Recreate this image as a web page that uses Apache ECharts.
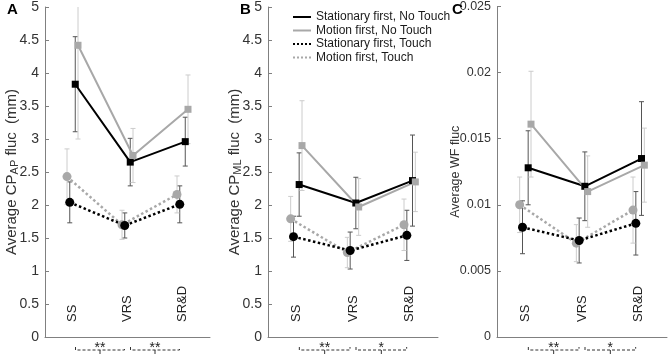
<!DOCTYPE html>
<html>
<head>
<meta charset="utf-8">
<script src="https://cdn.jsdelivr.net/npm/echarts@6/dist/echarts.min.js"></script>
<style>
  html, body { margin: 0; padding: 0; background: #fff; }
  #chart { width: 669px; height: 357px; }
</style>
</head>
<body>
<div id="chart"></div>
<script>
const categories = ['SS', 'VRS', 'SR&D'];
const seriesNames = ['Stationary first, No Touch', 'Motion first, No Touch', 'Stationary first, Touch', 'Motion first, Touch'];

// A: CP AP fluc (mm), mean and error bar half-length
const apStatNoTouch = [3.83, 2.65, 2.96];
const apStatNoTouchErr = [0.72, 0.36, 0.37];
const apMotNoTouch = [4.42, 2.75, 3.45];
const apMotNoTouchErr = [1.42, 0.41, 0.52];
const apStatTouch = [2.04, 1.69, 2.01];
const apStatTouchErr = [0.31, 0.19, 0.28];
const apMotTouch = [2.43, 1.70, 2.16];
const apMotTouchErr = [0.42, 0.22, 0.28];

// B: CP ML fluc (mm)
const mlStatNoTouch = [2.31, 2.03, 2.37];
const mlStatNoTouchErr = [0.48, 0.39, 0.69];
const mlMotNoTouch = [2.90, 1.97, 2.35];
const mlMotNoTouchErr = [0.68, 0.43, 0.45];
const mlStatTouch = [1.52, 1.31, 1.54];
const mlStatTouchErr = [0.31, 0.28, 0.38];
const mlMotTouch = [1.79, 1.28, 1.70];
const mlMotTouchErr = [0.34, 0.23, 0.39];

// C: WF fluc
const wfStatNoTouch = [0.0128, 0.0114, 0.0135];
const wfStatNoTouchErr = [0.0028, 0.0026, 0.0043];
const wfMotNoTouch = [0.0161, 0.0110, 0.0130];
const wfMotNoTouchErr = [0.0040, 0.0027, 0.0028];
const wfStatTouch = [0.0083, 0.0073, 0.0086];
const wfStatTouchErr = [0.0020, 0.0017, 0.0024];
const wfMotTouch = [0.0100, 0.0071, 0.0096];
const wfMotTouchErr = [0.0021, 0.0014, 0.0025];

// significance between SS-VRS and VRS-SR&D
const sigA = ['**', '**'];
const sigB = ['**', '*'];
const sigC = ['**', '*'];

const panels = [
  { letter: 'A', name: '{t|Average CP}{s|AP}{t| fluc  (mm)}', max: 5, step: 0.5, sig: sigA,
    means: [apStatNoTouch, apMotNoTouch, apStatTouch, apMotTouch],
    errs: [apStatNoTouchErr, apMotNoTouchErr, apStatTouchErr, apMotTouchErr] },
  { letter: 'B', name: '{t|Average CP}{s|ML}{t| fluc  (mm)}', max: 5, step: 0.5, sig: sigB,
    means: [mlStatNoTouch, mlMotNoTouch, mlStatTouch, mlMotTouch],
    errs: [mlStatNoTouchErr, mlMotNoTouchErr, mlStatTouchErr, mlMotTouchErr] },
  { letter: 'C', name: '{t|Average WF fluc}', max: 0.025, step: 0.005, sig: sigC,
    means: [wfStatNoTouch, wfMotNoTouch, wfStatTouch, wfMotTouch],
    errs: [wfStatNoTouchErr, wfMotNoTouchErr, wfStatTouchErr, wfMotTouchErr] }
];

// layout / style
const gridLeft = [40, 268, 497];
const nameGaps = [25, 25, 34];
const nameFont = [15, 15, 12.5];
const tickFont = [14, 14, 12.5];
const letterLeft = [7, 240, 452];
const styles = [
  { color: '#000000', type: 'solid', width: 2, symbol: 'rect', size: 7, bar: '#555555', dx: 0.05 },
  { color: '#a8a8a8', type: 'solid', width: 2, symbol: 'rect', size: 7, bar: '#cccccc', dx: 0.1 },
  { color: '#000000', type: 'dotted', width: 2.5, symbol: 'circle', size: 9, bar: '#555555', dx: -0.05 },
  { color: '#a8a8a8', type: 'dotted', width: 2.5, symbol: 'circle', size: 9, bar: '#cccccc', dx: -0.1 }
];
const drawOrder = [3, 2, 0, 1];
const axisGray = '#808080';
const font = '"Liberation Sans", Arial, sans-serif';

const chart = echarts.init(document.getElementById('chart'));

const grid = [], xAxis = [], yAxis = [], title = [], series = [];

panels.forEach((p, i) => {
  grid.push({ left: gridLeft[i], top: 5, width: 170, height: 332 });
  title.push({ text: p.letter, left: letterLeft[i], top: 2, padding: 0,
    textStyle: { fontSize: 15, fontWeight: 'bold', color: '#000', fontFamily: font } });

  // category axis: visible labels and ticks
  xAxis.push({
    type: 'category', gridIndex: i, data: categories, boundaryGap: true,
    axisLine: { lineStyle: { color: axisGray, width: 1 } },
    axisTick: { inside: true, alignWithLabel: true, length: 4, lineStyle: { color: axisGray } },
    axisLabel: { inside: true, rotate: 90, margin: 15, fontSize: 13, color: '#222', fontFamily: font }
  });
  // hidden value axis used to place the offset points
  xAxis.push({ type: 'value', gridIndex: i, min: 0.5, max: 3.5, show: false });

  const nf = nameFont[i];
  yAxis.push({
    type: 'value', gridIndex: i, min: 0, max: p.max, interval: p.step,
    axisLine: { show: true, lineStyle: { color: axisGray, width: 1 } },
    axisTick: { show: true, inside: true, length: 4, lineStyle: { color: axisGray } },
    splitLine: { show: false },
    axisLabel: { fontSize: tickFont[i], color: '#333', margin: 6, fontFamily: font },
    name: p.name, nameLocation: 'middle', nameGap: nameGaps[i], nameMoveOverlap: false,
    nameTextStyle: {
      fontFamily: font,
      rich: {
        t: { fontSize: nf, color: '#333', fontFamily: font, verticalAlign: 'top', lineHeight: nf + 1 },
        s: { fontSize: nf - 4, color: '#333', fontFamily: font, verticalAlign: 'bottom', lineHeight: nf - 3, padding: [8, 0, 0, 0] }
      }
    }
  });

  const vx = i * 2 + 1;

  // error bars
  const barData = [];
  p.means.forEach((m, s) => {
    m.forEach((v, c) => barData.push([c + 1 + styles[s].dx, v, p.errs[s][c], s]));
  });
  series.push({
    type: 'custom', xAxisIndex: vx, yAxisIndex: i, clip: true, z: 1,
    data: barData,
    encode: { x: 0, y: 1 },
    renderItem: (params, api) => {
      const x = api.value(0), m = api.value(1), e = api.value(2);
      const st = styles[api.value(3)];
      const top = api.coord([x, m + e]);
      const bot = api.coord([x, m - e]);
      const cap = 2.5;
      const ls = { stroke: st.bar, lineWidth: 1 };
      return {
        type: 'group',
        children: [
          { type: 'line', shape: { x1: top[0], y1: top[1], x2: bot[0], y2: bot[1] }, style: ls },
          { type: 'line', shape: { x1: top[0] - cap, y1: top[1], x2: top[0] + cap, y2: top[1] }, style: ls },
          { type: 'line', shape: { x1: bot[0] - cap, y1: bot[1], x2: bot[0] + cap, y2: bot[1] }, style: ls }
        ]
      };
    }
  });

  drawOrder.forEach(s => {
    const st = styles[s];
    series.push({
      name: seriesNames[s], type: 'line', xAxisIndex: vx, yAxisIndex: i, z: 2,
      data: p.means[s].map((v, c) => [c + 1 + st.dx, v]),
      symbol: st.symbol, symbolSize: st.size, showSymbol: true,
      lineStyle: { color: st.color, width: st.width, type: st.type },
      itemStyle: { color: st.color },
      emphasis: { disabled: true }
    });
  });

  // significance brackets under the axis
  series.push({
    type: 'custom', xAxisIndex: vx, yAxisIndex: i, clip: false, silent: true, z: 3,
    data: p.sig.map((txt, k) => [k + 1, k + 2, k]),
    encode: { x: [0, 1] },
    renderItem: (params, api) => {
      const a = api.coord([api.value(0), 0]);
      const b = api.coord([api.value(1), 0]);
      const txt = p.sig[api.value(2)];
      const y = a[1] + 13;
      const x1 = a[0] + 3, x2 = b[0] - 3, cx = (x1 + x2) / 2;
      const ls = { stroke: '#333', lineWidth: 1, lineDash: [3, 2] };
      return {
        type: 'group',
        children: [
          { type: 'polyline', shape: { points: [[x1, y - 3], [x1, y], [x2, y], [x2, y - 3]] }, style: Object.assign({ fill: null }, ls) },
          { type: 'line', shape: { x1: cx, y1: y, x2: cx, y2: y + 4 }, style: { stroke: '#333', lineWidth: 1 } },
          { type: 'text', x: cx, y: y - 2, style: { text: txt, textAlign: 'center', textVerticalAlign: 'middle', fontSize: 14, fill: '#222', fontFamily: font } }
        ]
      };
    }
  });
});

chart.setOption({
  animation: false,
  textStyle: { fontFamily: font },
  title: title,
  legend: {
    data: seriesNames, orient: 'vertical', left: 292, top: 11, padding: 0,
    itemWidth: 18, itemHeight: 10, itemGap: 1.5,
    itemStyle: { opacity: 0 },
    textStyle: { fontSize: 12, color: '#1a1a1a', fontFamily: font },
    selectedMode: false
  },
  grid: grid,
  xAxis: xAxis,
  yAxis: yAxis,
  series: series
});
</script>
</body>
</html>
